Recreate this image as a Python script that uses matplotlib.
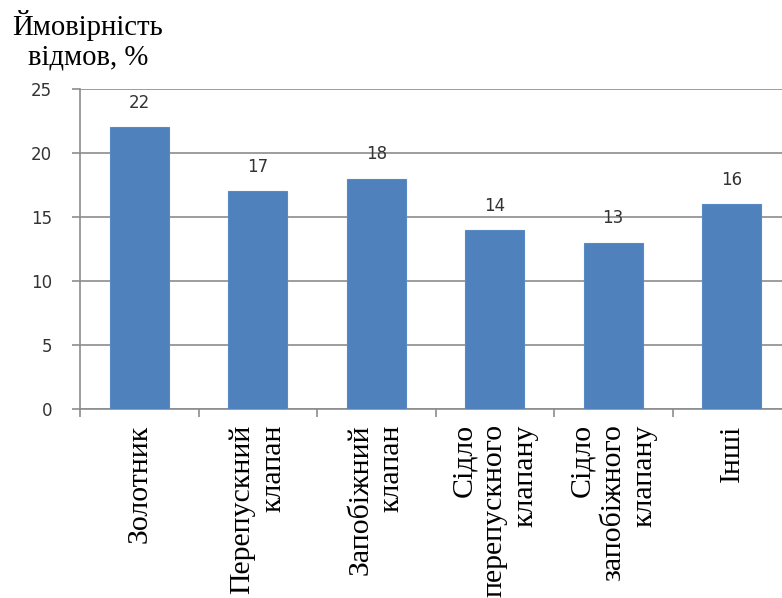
import matplotlib.pyplot as plt
import numpy as np

# дані
categories = ['Золотник', 'Перепускний\nклапан', 'Запобіжний\nклапан',
              'Сідло\nперепускного\nклапану', 'Сідло\nзапобіжного\nклапану', 'Інші']
values = [22, 17, 18, 14, 13, 16]
y_ticks = [0, 5, 10, 15, 20, 25]

grid_col = '#8c8c8c'
bar_col = '#4f81bd'

fig = plt.figure(figsize=(7.82, 5.98), dpi=100)
# права межа осей виходить за край рисунка, як на оригіналі
ax = fig.add_axes([80 / 782, 189 / 598, 711 / 782, 320 / 598])

x = np.arange(len(values))
bars = ax.bar(x, values, width=0.5, color=bar_col, edgecolor='#5a8ac6', linewidth=0.8, zorder=3)

ax.set_xlim(-0.5, len(values) - 0.5)
ax.set_ylim(0, 25)
ax.set_yticks(y_ticks)
ax.set_yticklabels([str(t) for t in y_ticks], fontsize=12, color='#333333')
ax.yaxis.grid(True, color=grid_col, linewidth=1.2, zorder=0)

# мітки категорій - на межах, підписи - по центру
ax.set_xticks(np.arange(len(values) + 1) - 0.5)
ax.set_xticklabels([])
ax.set_xticks(x, minor=True)
ax.set_xticklabels(categories, minor=True, rotation=90, ha='center', va='top',
                   multialignment='right', family='Liberation Serif', fontsize=21.5,
                   linespacing=1.25)
ax.tick_params(axis='x', which='minor', length=0, pad=11)
ax.tick_params(axis='x', which='major', length=6, color=grid_col, width=1.2)
ax.tick_params(axis='y', length=6, color=grid_col, width=1.2, pad=14)

for s in ['top', 'right']:
    ax.spines[s].set_visible(False)
for s in ['left', 'bottom']:
    ax.spines[s].set_color(grid_col)
    ax.spines[s].set_linewidth(1.2)

ax.bar_label(bars, labels=[str(v) for v in values], padding=11, fontsize=12, color='#333333')

fig.text(88 / 782, 1 - 65 / 598, 'Ймовірність\nвідмов, %', family='Liberation Serif',
         fontsize=20.7, ha='center', va='baseline', multialignment='center', linespacing=1.2)

plt.savefig('out.png', dpi=100)
